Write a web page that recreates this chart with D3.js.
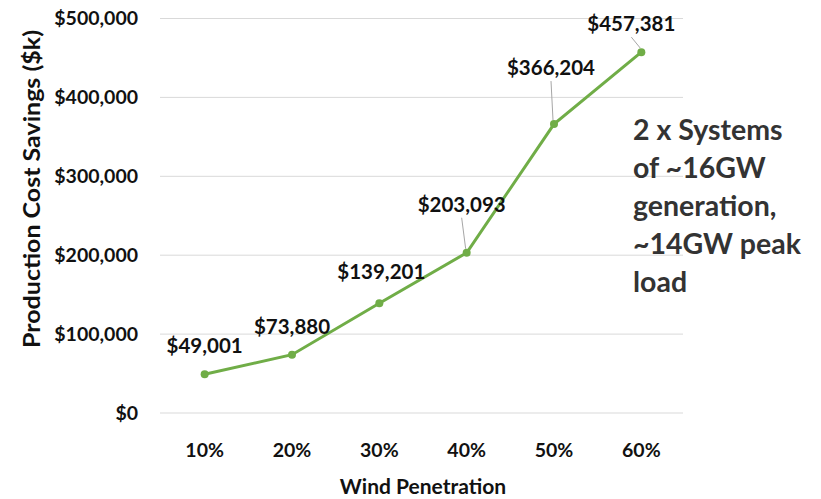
<!DOCTYPE html>
<html>
<head>
<meta charset="utf-8">
<script src="https://cdn.jsdelivr.net/npm/d3@7"></script>
<style>
  body { margin: 0; background: #fff; }
  svg text { font-family: Lato, "Open Sans", sans-serif; font-weight: bold; }
</style>
</head>
<body>
<script>
var categories = ["10%", "20%", "30%", "40%", "50%", "60%"];
var savings = [49001, 73880, 139201, 203093, 366204, 457381];
var yTicks = [0, 100000, 200000, 300000, 400000, 500000];
// label offsets relative to the point (dx, dy)
var labelPos = [[0, -29], [0, -28], [2, -31], [-5, -48], [-3, -56], [-10, -28]];
var noteLines = ["2 x Systems", "of ~16GW", "generation,", "~14GW peak", "load"];

var W = 821, H = 499;
var svg = d3.select("body").append("svg")
  .attr("width", W)
  .attr("height", H);

var x = d3.scaleBand().domain(categories).range([161, 685]);
var y = d3.scaleLinear().domain([0, 500000]).range([413, 18.5]);
var money = function(v) { return "$" + d3.format(",")(v); };

// grid
svg.append("g").selectAll("line").data(yTicks).enter().append("line")
  .attr("x1", 160).attr("x2", 683)
  .attr("y1", function(d) { return y(d); })
  .attr("y2", function(d) { return y(d); })
  .attr("stroke", "#d9d9d9").attr("stroke-width", 1);

// y tick labels
svg.append("g").selectAll("text").data(yTicks).enter().append("text")
  .attr("x", 138)
  .attr("y", function(d) { return y(d); })
  .attr("dy", "0.35em")
  .attr("text-anchor", "end")
  .attr("font-size", 19.5)
  .attr("fill", "#111")
  .text(money);

// x tick labels
svg.append("g").selectAll("text").data(categories).enter().append("text")
  .attr("x", function(d) { return x(d) + x.bandwidth() / 2; })
  .attr("y", 450)
  .attr("dy", "0.35em")
  .attr("text-anchor", "middle")
  .attr("font-size", 19.5)
  .attr("fill", "#111")
  .text(function(d) { return d; });

// axis titles
svg.append("text")
  .attr("x", 423).attr("y", 487)
  .attr("dy", "0.35em")
  .attr("text-anchor", "middle")
  .attr("font-size", 21)
  .attr("fill", "#111")
  .text("Wind Penetration");

svg.append("text")
  .attr("transform", "translate(32,189) rotate(-90)")
  .attr("dy", "0.35em")
  .attr("text-anchor", "middle")
  .attr("font-size", 23)
  .attr("textLength", 318)
  .attr("lengthAdjust", "spacingAndGlyphs")
  .attr("fill", "#111")
  .text("Production Cost Savings ($k)");

var pts = savings.map(function(v, i) {
  return { cx: x(categories[i]) + x.bandwidth() / 2, cy: y(v), v: v, off: labelPos[i] };
});

// leader lines
svg.append("g").selectAll("line").data(pts.filter(function(p, i) { return i >= 3; })).enter().append("line")
  .attr("x1", function(p) { return p.cx + p.off[0]; })
  .attr("y1", function(p) { return p.cy + p.off[1] + 13; })
  .attr("x2", function(p) { return p.cx - 1; })
  .attr("y2", function(p) { return p.cy - 4; })
  .attr("stroke", "#a6a6a6").attr("stroke-width", 1);

// line
svg.append("path").datum(pts)
  .attr("d", d3.line().x(function(p) { return p.cx; }).y(function(p) { return p.cy; }))
  .attr("fill", "none")
  .attr("stroke", "#70ad47")
  .attr("stroke-width", 3);

svg.append("g").selectAll("circle").data(pts).enter().append("circle")
  .attr("cx", function(p) { return p.cx; })
  .attr("cy", function(p) { return p.cy; })
  .attr("r", 4)
  .attr("fill", "#70ad47");

// data labels
svg.append("g").selectAll("text").data(pts).enter().append("text")
  .attr("x", function(p) { return p.cx + p.off[0]; })
  .attr("y", function(p) { return p.cy + p.off[1]; })
  .attr("dy", "0.35em")
  .attr("text-anchor", "middle")
  .attr("font-size", 20.5)
  .attr("fill", "#111")
  .text(function(p) { return money(p.v); });

// note
svg.append("g").selectAll("text").data(noteLines).enter().append("text")
  .attr("x", 633)
  .attr("y", function(d, i) { return 130 + i * 38; })
  .attr("dy", "0.35em")
  .attr("font-size", 28.5)
  .attr("fill", "#333")
  .text(function(d) { return d; });
</script>
</body>
</html>
